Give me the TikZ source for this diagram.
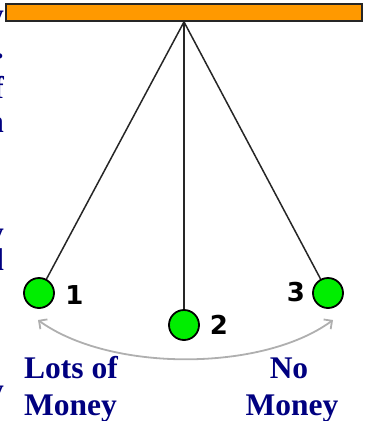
\documentclass[tikz,border=0pt]{standalone}
\usepackage{fontspec}
\setmainfont{Liberation Serif}
\newfontfamily\numfont{DejaVu Sans}
\usepackage{xcolor}
\usetikzlibrary{arrows.meta,positioning}
\definecolor{barorange}{RGB}{255,153,0}
\definecolor{ballgreen}{RGB}{0,238,0}
\definecolor{moneyblue}{RGB}{0,0,128}
\definecolor{swinggray}{RGB}{175,175,175}
\tikzset{
  ball/.style={circle, draw=black, line width=1.8pt, fill=ballgreen, minimum size=30pt, inner sep=0pt},
  num/.style={font=\numfont\bfseries\fontsize{26}{26}\selectfont, inner sep=0pt},
  money/.style={font=\bfseries\fontsize{31.5}{37}\selectfont, text=moneyblue, inner sep=0pt, anchor=base},
  cut/.style={font=\bfseries\fontsize{31.5}{37}\selectfont, text=moneyblue, inner sep=0pt, anchor=base east}
}

\begin{document}
\begin{tikzpicture}[x=1pt, y=-1pt]
    \useasboundingbox (0,0) rectangle (368,421);

    % Text cut off at the left edge
    \begin{scope}
        \clip (0,0) rectangle (368,421);
        \node[cut] (cut1) at (4,25) {y};
        \node[cut] (cut2) at (4,58) {.};
        \node[cut] (cut3) at (4,98) {f};
        \node[cut] (cut4) at (4,132) {n};
        \node[cut] (cut5) at (4,243) {y};
        \node[cut] (cut6) at (4,270) {d};
        \node[cut] (cut7) at (4,400) {y};
    \end{scope}

    % Bar
    \node[draw=black!85, line width=1.8pt, fill=barorange, minimum width=356pt, minimum height=17pt, inner sep=0pt] (bar) at (184,12.5) {};
    \coordinate (pivot) at (bar.south);

    % Balls
    \node[ball] (ball1) at (39,293) {};
    \node[ball] (ball2) at (184,325) {};
    \node[ball] (ball3) at (328,293) {};

    % Strings
    \draw[line width=1.5pt, black!85] (pivot) -- (ball1);
    \draw[line width=1.5pt, black!85] (pivot) -- (ball2);
    \draw[line width=1.5pt, black!85] (pivot) -- (ball3);

    % Numbers
    \node[num] (n1) at (74.5,295) {1};
    \node[num] (n2) at (219,325) {2};
    \node[num] (n3) at (296,292) {3};

    % Swing
    \coordinate (swingL) at (38,320);
    \coordinate (swingR) at (333,320);
    \draw[swinggray, line width=1.8pt, {Straight Barb[length=6pt,width=12pt]}-{Straight Barb[length=6pt,width=12pt]}]
        (swingL) .. controls (110,372) and (262,372) .. (swingR);

    % Labels
    \node[money, anchor=base west] (lots) at (24,378) {Lots of};
    \node[money, anchor=base west] (lotsmoney) at (24,415) {Money};
    \node[money] (no) at (289,378) {No};
    \node[money] (nomoney) at (292,415) {Money};
\end{tikzpicture}
\end{document}
